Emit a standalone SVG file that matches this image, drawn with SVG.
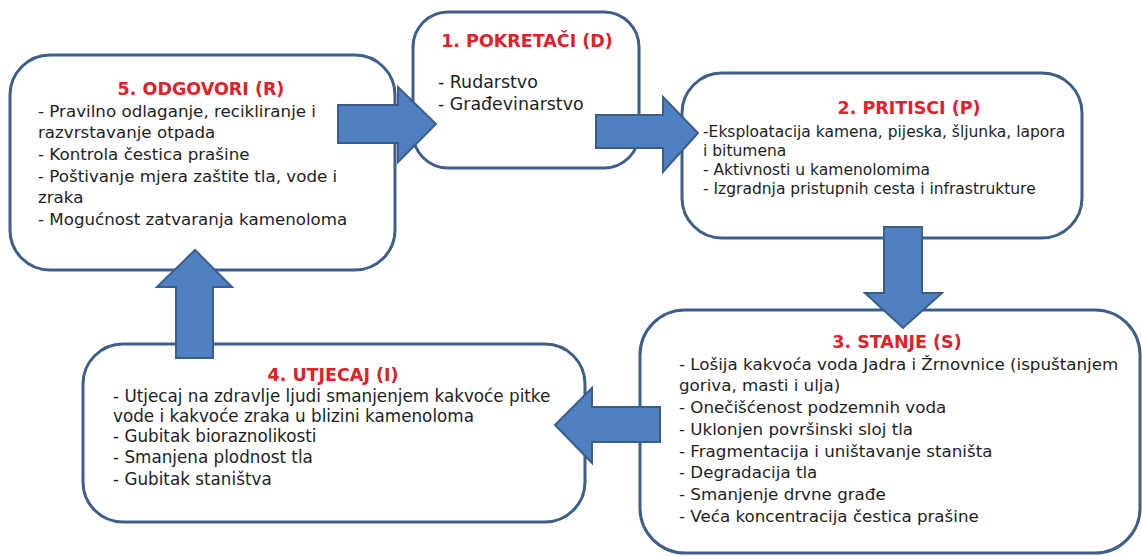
<svg xmlns="http://www.w3.org/2000/svg" width="1142" height="556" viewBox="0 0 1142 556">
<style>
.box{fill:#ffffff;stroke:#3e5f8a;stroke-width:3}
.arr{fill:#4f81c0;stroke:#3a5d8c;stroke-width:2;stroke-linejoin:miter}
.t{font-family:"DejaVu Sans","Open Sans",sans-serif;fill:#1e1e1e}
.h{font-family:"DejaVu Sans","Open Sans",sans-serif;font-weight:bold;fill:#e0202a;text-anchor:middle;font-size:17.5px}
</style>
<rect width="1142" height="556" fill="#ffffff"/>
<g id="node-odgovori">
<rect class="box" x="10" y="55" width="385" height="215" rx="40"/>
<text class="h" x="201" y="95">5. ODGOVORI (R)</text>
<g class="t" font-size="16.7">
<text x="38" y="117">- Pravilno odlaganje, recikliranje i</text>
<text x="38" y="138">razvrstavanje otpada</text>
<text x="38" y="160">- Kontrola čestica prašine</text>
<text x="38" y="182">- Poštivanje mjera zaštite tla, vode i</text>
<text x="38" y="203">zraka</text>
<text x="38" y="225">- Mogućnost zatvaranja kamenoloma</text>
</g>
</g>
<g id="node-pokretaci">
<rect class="box" x="413" y="12" width="226" height="156" rx="35"/>
<text class="h" x="527" y="47">1. POKRETAČI (D)</text>
<g class="t" font-size="17.4">
<text x="438" y="88">- Rudarstvo</text>
<text x="438" y="110">- Građevinarstvo</text>
</g>
</g>
<g id="node-pritisci">
<rect class="box" x="682" y="73" width="400" height="165" rx="40"/>
<text class="h" x="909" y="114">2. PRITISCI (P)</text>
<g class="t" font-size="15.5">
<text x="703" y="137">-Eksploatacija kamena, pijeska, šljunka, lapora</text>
<text x="703" y="156">i bitumena</text>
<text x="703" y="175">- Aktivnosti  u kamenolomima</text>
<text x="703" y="194">- Izgradnja pristupnih cesta i infrastrukture</text>
</g>
</g>
<g id="node-stanje">
<rect class="box" x="640" y="310" width="500" height="243" rx="45"/>
<text class="h" x="897" y="348">3. STANJE (S)</text>
<g class="t" font-size="16.7">
<text x="679" y="370">- Lošija kakvoća voda Jadra i Žrnovnice (ispuštanjem</text>
<text x="679" y="391">goriva, masti i ulja)</text>
<text x="679" y="413">- Onečišćenost podzemnih voda</text>
<text x="679" y="435">- Uklonjen površinski sloj tla</text>
<text x="679" y="457">- Fragmentacija i uništavanje staništa</text>
<text x="679" y="478">- Degradacija tla</text>
<text x="679" y="500">- Smanjenje drvne građe</text>
<text x="679" y="522">- Veća koncentracija čestica prašine</text>
</g>
</g>
<g id="node-utjecaj">
<rect class="box" x="83" y="344" width="502" height="178" rx="40"/>
<text class="h" x="333" y="381">4. UTJECAJ (I)</text>
<g class="t" font-size="16.8">
<text x="113" y="402">- Utjecaj na zdravlje ljudi smanjenjem kakvoće pitke</text>
<text x="113" y="422">vode i kakvoće zraka u blizini kamenoloma</text>
<text x="113" y="442">- Gubitak bioraznolikosti</text>
<text x="113" y="463">- Smanjena plodnost tla</text>
<text x="113" y="485">- Gubitak staništva</text>
</g>
</g>
<g id="connectors">
<polygon class="arr" points="338,105 398,105 398,87 436,124 398,162 398,143 338,143"/>
<polygon class="arr" points="596,115 663,115 663,97 698,133 663,172 663,148 596,148"/>
<polygon class="arr" points="884,227 922,227 922,293 942,293 903,328 865,293 884,293"/>
<polygon class="arr" points="660,407 592,407 592,388 555,425 592,463 592,442 660,442"/>
<polygon class="arr" points="176,358 176,287 157,287 195,250 232,287 213,287 213,358"/>
</g>
</svg>
